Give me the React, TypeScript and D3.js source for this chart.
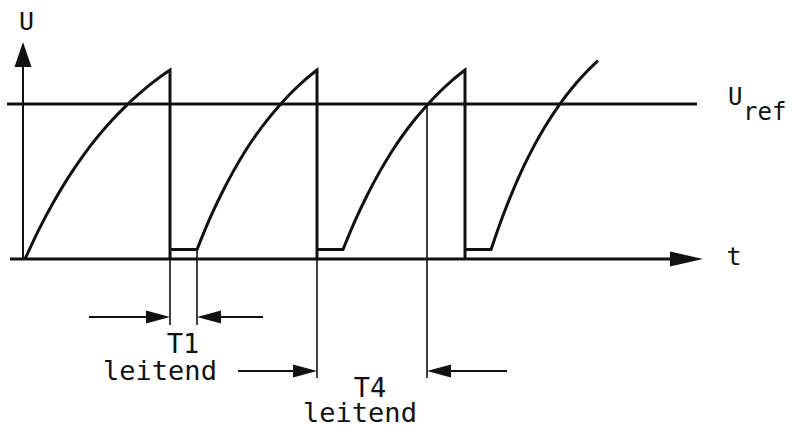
import React from "react";
import * as d3 from "d3";

// Charging curves (time in arbitrary units, voltage normalised to peak = 1)
const charge1T = [0.2, 1.65, 3.1, 4.55, 6.0, 7.45, 8.9, 10.35, 11.8, 13.25, 14.7];
const charge1V = [0.0, 0.162, 0.305, 0.433, 0.546, 0.646, 0.734, 0.813, 0.883, 0.945, 1.0];
const charge2T = [17.4, 18.6, 19.8, 21.0, 22.2, 23.4, 24.6, 25.8, 27.0, 28.2, 29.4];
const charge2V = [0.05, 0.204, 0.34, 0.461, 0.569, 0.664, 0.747, 0.822, 0.889, 0.948, 1.0];
const charge3T = [32.0, 33.22, 34.44, 35.66, 36.88, 38.1, 39.32, 40.54, 41.76, 42.98, 44.2];
const charge3V = [0.05, 0.204, 0.34, 0.461, 0.569, 0.664, 0.747, 0.822, 0.889, 0.948, 1.0];
const charge4T = [46.8, 47.87, 48.94, 50.01, 51.08, 52.15, 53.22, 54.29, 55.36, 56.43, 57.5];
const charge4V = [0.05, 0.212, 0.355, 0.483, 0.596, 0.696, 0.784, 0.863, 0.933, 0.995, 1.05];

const dischargeTimes = [14.7, 29.4, 44.2];
const conductEndTimes = [17.4, 32.0, 46.8];
const plateauV = 0.05;
const uRef = 0.82;
const t4Time = 40.4;

const axisLabelU = "U";
const axisLabelT = "t";
const refLabelMain = "U";
const refLabelSub = "ref";
const t1Label = ["T1", "leitend"];
const t4Label = ["T4", "leitend"];

const W = 792;
const H = 427;
const FONT = "'DejaVu Sans Mono', monospace";

export default function App() {
  const x = d3.scaleLinear().domain([0, 68]).range([23, 703]);
  const y = d3.scaleLinear().domain([0, 1]).range([259, 70]);

  const smooth = d3
    .line<[number, number]>()
    .x((d) => x(d[0]))
    .y((d) => y(d[1]))
    .curve(d3.curveMonotoneX);

  const charges: [number[], number[]][] = [
    [charge1T, charge1V],
    [charge2T, charge2V],
    [charge3T, charge3V],
    [charge4T, charge4V],
  ];

  let d = "";
  charges.forEach(([ts, vs], i) => {
    const pts = ts.map((t, k) => [t, vs[k]] as [number, number]);
    const s = smooth(pts) || "";
    d += i === 0 ? s : s.replace(/^M/, "L");
    if (i < dischargeTimes.length) {
      const td = dischargeTimes[i];
      const te = conductEndTimes[i];
      d += `L${x(td)},${y(0)}L${x(td)},${y(plateauV)}L${x(te)},${y(plateauV)}`;
    }
  });

  const arrowHead = (tipX: number, tipY: number, dir: number, len = 24, hw = 6.5) =>
    `M${tipX},${tipY}L${tipX - dir * len},${tipY - hw}L${tipX - dir * len},${tipY + hw}Z`;

  const yBase = y(0);
  const yRow1 = 317;
  const yRow2 = 371;

  const arrows = [
    { from: 89, to: x(dischargeTimes[0]), y: yRow1 },
    { from: 263, to: x(conductEndTimes[0]), y: yRow1 },
    { from: 238, to: x(dischargeTimes[1]), y: yRow2 },
    { from: 507, to: x(t4Time), y: yRow2 },
  ];

  const guides = [
    { t: dischargeTimes[0], y1: yBase, y2: 325 },
    { t: conductEndTimes[0], y1: y(plateauV), y2: 325 },
    { t: dischargeTimes[1], y1: yBase, y2: 378 },
    { t: t4Time, y1: y(uRef), y2: 378 },
  ];

  const ink = "#111";

  return (
    <svg
      width={W}
      height={H}
      style={{ position: "absolute", left: 0, top: 0, display: "block", background: "#fff" }}
    >
      <rect width={W} height={H} fill="#fff" />
      {/* U axis */}
      <line x1={x(0)} y1={yBase} x2={x(0)} y2={66} stroke={ink} strokeWidth={2} />
      <path d={`M${x(0)},42L${x(0) - 8.5},67L${x(0) + 8.5},67Z`} fill={ink} />
      {/* t axis */}
      <line x1={10} y1={yBase} x2={672} y2={yBase} stroke={ink} strokeWidth={3} />
      <path d={`M703,${yBase}L670,${yBase - 7.5}L670,${yBase + 7.5}Z`} fill={ink} />
      {/* U_ref */}
      <line x1={7} y1={y(uRef)} x2={697} y2={y(uRef)} stroke={ink} strokeWidth={3} />
      {/* guides */}
      {guides.map((g, i) => (
        <line key={i} x1={x(g.t)} x2={x(g.t)} y1={g.y1} y2={g.y2} stroke={ink} strokeWidth={1.6} />
      ))}
      {/* waveform */}
      <path d={d} fill="none" stroke={ink} strokeWidth={3} strokeLinejoin="miter" strokeMiterlimit={10} />
      {/* arrows */}
      {arrows.map((a, i) => {
        const dir = a.to > a.from ? 1 : -1;
        return (
          <g key={i}>
            <line x1={a.from} y1={a.y} x2={a.to - dir * 20} y2={a.y} stroke={ink} strokeWidth={2} />
            <path d={arrowHead(a.to, a.y, dir)} fill={ink} />
          </g>
        );
      })}
      {/* labels */}
      <g fontFamily={FONT} fill={ink}>
        <text x={26.5} y={30} fontSize={25} textAnchor="middle">{axisLabelU}</text>
        <text x={734} y={265} fontSize={25} textAnchor="middle">{axisLabelT}</text>
        <text x={728} y={105} fontSize={24}>
          {refLabelMain}
          <tspan x={743} y={120}>{refLabelSub}</tspan>
        </text>
        <text x={183} y={353} fontSize={27} textAnchor="middle">{t1Label[0]}</text>
        <text x={160} y={380} fontSize={27} textAnchor="middle">{t1Label[1]}</text>
        <text x={370} y={397} fontSize={27} textAnchor="middle">{t4Label[0]}</text>
        <text x={360} y={422} fontSize={27} textAnchor="middle">{t4Label[1]}</text>
      </g>
    </svg>
  );
}
